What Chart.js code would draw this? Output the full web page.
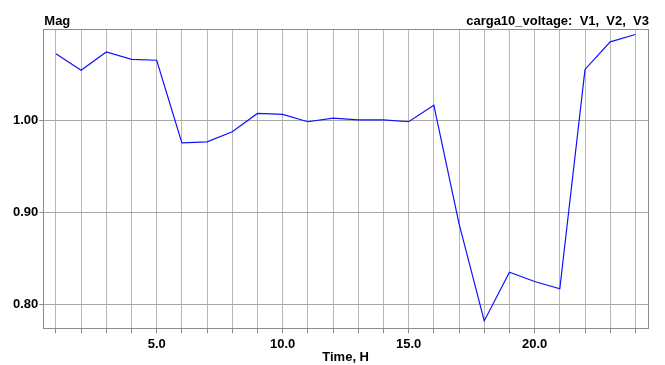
<!DOCTYPE html>
<html>
<head>
<meta charset="utf-8">
<script src="https://cdn.jsdelivr.net/npm/chart.js@4/dist/chart.umd.min.js"></script>
<style>
  html, body { margin: 0; padding: 0; background: #ffffff; }
  #wrap { width: 665px; height: 365px; }
</style>
</head>
<body>
<div id="wrap"><canvas id="c" width="665" height="365"></canvas></div>
<script>
// Hourly voltage magnitude for load carga10
const hours = [1, 2, 3, 4, 5, 6, 7, 8, 9, 10, 11, 12, 13, 14, 15, 16, 17, 18, 19, 20, 21, 22, 23, 24];
const magnitude = [1.073, 1.055, 1.075, 1.067, 1.066, 0.976, 0.977, 0.988, 1.008, 1.007, 0.999, 1.003, 1.001, 1.001, 0.999, 1.017, 0.888, 0.782, 0.835, 0.825, 0.817, 1.056, 1.086, 1.094];
const yTickValues = [0.80, 0.90, 1.00];
const xLabelEvery = 5;
const headerLeft = 'Mag';
const headerRight = 'carga10_voltage:  V1,  V2,  V3';
const xTitle = 'Time, H';

const FONT = '"Liberation Sans", Arial, sans-serif';

// Header texts above the plot and a closed frame around it
const headerPlugin = {
  id: 'header',
  afterDraw(chart) {
    const ctx = chart.ctx;
    const area = chart.chartArea;
    ctx.save();
    ctx.strokeStyle = '#8c8c8c';
    ctx.lineWidth = 1;
    ctx.strokeRect(Math.round(area.left) + 0.5, Math.round(area.top) + 0.5,
                   Math.round(area.right - area.left), Math.round(area.bottom - area.top));
    ctx.fillStyle = '#000000';
    ctx.font = 'bold 13px ' + FONT;
    ctx.textBaseline = 'alphabetic';
    ctx.textAlign = 'left';
    ctx.fillText(headerLeft, area.left + 1, 25);
    ctx.textAlign = 'right';
    ctx.fillText(headerRight, area.right + 1, 25);
    ctx.restore();
  }
};

new Chart(document.getElementById('c'), {
  type: 'line',
  data: {
    datasets: [{
      data: hours.map((h, i) => ({ x: h, y: magnitude[i] })),
      borderColor: '#1010ff',
      borderWidth: 1.2,
      pointRadius: 0,
      tension: 0,
      fill: false
    }]
  },
  options: {
    responsive: false,
    animation: false,
    devicePixelRatio: 1,
    layout: { padding: { top: 29, right: 17, left: 0, bottom: 0 } },
    plugins: {
      legend: { display: false },
      tooltip: { enabled: false },
      title: { display: false }
    },
    scales: {
      x: {
        type: 'linear',
        min: 0.5,
        max: 24.5,
        afterBuildTicks: s => { s.ticks = hours.map(v => ({ value: v })); },
        afterFit: s => { s.height = 36.7; },
        ticks: {
          autoSkip: false,
          maxRotation: 0,
          padding: 3,
          color: '#000000',
          font: { family: FONT, size: 13, weight: 'bold' },
          callback: v => (v % xLabelEvery === 0 ? v.toFixed(1) : '')
        },
        grid: {
          color: '#b8b8b8',
          lineWidth: 1,
          drawTicks: true,
          tickLength: 5,
          tickColor: '#8c8c8c'
        },
        border: { color: '#8c8c8c', width: 1 },
        title: {
          display: true,
          text: xTitle,
          color: '#000000',
          font: { family: FONT, size: 13, weight: 'bold' },
          padding: { top: 0, bottom: 0 }
        }
      },
      y: {
        type: 'linear',
        min: 0.774,
        max: 1.1,
        afterBuildTicks: s => { s.ticks = yTickValues.map(v => ({ value: v })); },
        afterFit: s => { s.width = 43.3; },
        ticks: {
          padding: 1,
          color: '#000000',
          font: { family: FONT, size: 13, weight: 'bold' },
          callback: v => v.toFixed(2)
        },
        grid: {
          color: '#a8a8a8',
          lineWidth: 1,
          drawTicks: true,
          tickLength: 4,
          tickColor: '#8c8c8c'
        },
        border: { color: '#8c8c8c', width: 1 }
      }
    }
  },
  plugins: [headerPlugin]
});
</script>
</body>
</html>
